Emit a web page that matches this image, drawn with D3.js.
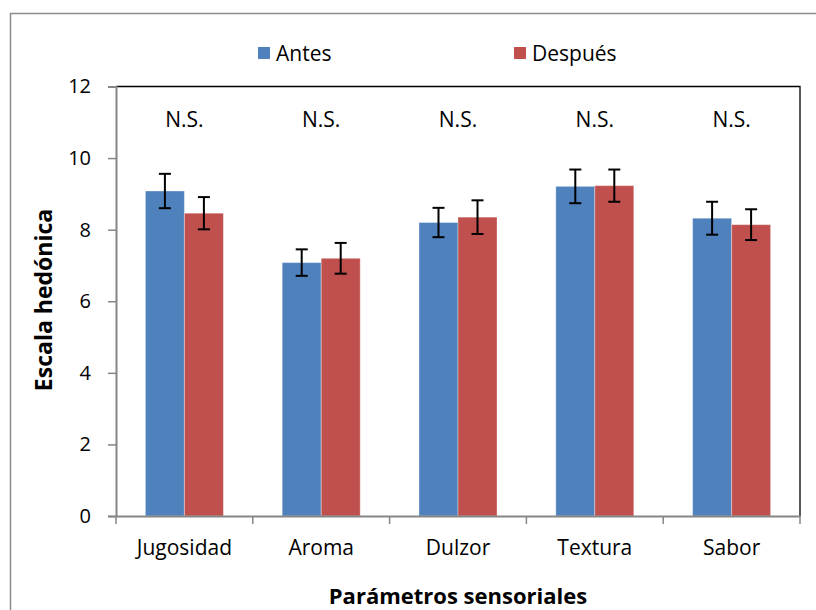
<!DOCTYPE html>
<html><head><meta charset="utf-8">
<script src="https://cdn.jsdelivr.net/npm/d3@7"></script>
<style>body{margin:0;background:#fff}svg{display:block}text{font-family:"Open Sans",sans-serif}</style>
</head><body><svg id="c" width="816" height="610"></svg>
<script>
const categories = ["Jugosidad","Aroma","Dulzor","Textura","Sabor"];
const seriesNames = ["Antes","Después"];
const antes = [9.08, 7.08, 8.20, 9.21, 8.32];
const despues = [8.46, 7.20, 8.35, 9.23, 8.14];
const antesErr = [0.48, 0.37, 0.41, 0.47, 0.46];
const despuesErr = [0.45, 0.43, 0.47, 0.45, 0.43];
const annotations = ["N.S.","N.S.","N.S.","N.S.","N.S."];
const yTicks = [0,2,4,6,8,10,12];
const colors = ["#4F81BD","#C0504D"];

const svg = d3.select("#c");
const L=116, R=800, T=86.5, B=516;
svg.append("rect").attr("x",10.5).attr("y",13.5).attr("width",840).attr("height",640)
  .attr("fill","none").attr("stroke","#8c8c8c").attr("stroke-width",1.5);

const x = d3.scaleBand().domain(categories).range([L,R]).paddingInner(0).paddingOuter(0);
const y = d3.scaleLinear().domain([0,12]).range([B,T]);

svg.append("path").attr("d",`M${L},${T}H${R}V${B}`).attr("fill","none").attr("stroke","#000").attr("stroke-width",1.3);

const data = categories.map((c,i)=>({c, vals:[
  {s:seriesNames[0], v:antes[i], e:antesErr[i], col:colors[0]},
  {s:seriesNames[1], v:despues[i], e:despuesErr[i], col:colors[1]}]}));

const bw = 39;
const g = svg.append("g");
data.forEach((d,i)=>{
  const cx = x(d.c)+x.bandwidth()/2;
  d.vals.forEach((s,j)=>{
    const bx = cx + (j===0 ? -bw : 0);
    g.append("rect").attr("x",bx).attr("y",y(s.v)).attr("width",bw).attr("height",y(0)-y(s.v))
      .attr("fill",s.col).attr("stroke","rgba(255,255,255,0.35)").attr("stroke-width",1);
    const ex = bx+bw/2;
    g.append("line").attr("x1",ex).attr("x2",ex).attr("y1",y(s.v+s.e)).attr("y2",y(s.v-s.e)).attr("stroke","#000").attr("stroke-width",2);
    [s.v+s.e, s.v-s.e].forEach(v=>g.append("line").attr("x1",ex-6).attr("x2",ex+6).attr("y1",y(v)).attr("y2",y(v)).attr("stroke","#000").attr("stroke-width",2));
  });
  svg.append("text").attr("x",cx).attr("y",127).attr("text-anchor","middle").attr("font-size",21).attr("fill","#000").text(annotations[i]);
});

const ya = svg.append("g").attr("transform",`translate(${L},0)`)
  .call(d3.axisLeft(y).tickValues(yTicks).tickSize(8).tickPadding(17).tickFormat(d3.format("d")));
ya.select(".domain").attr("stroke","#868686").attr("stroke-width",2);
ya.selectAll(".tick line").attr("stroke","#868686").attr("stroke-width",1.5);
ya.selectAll("text").attr("font-size",20).attr("fill","#000").style("font-family","'Open Sans',sans-serif");

const xa = svg.append("g").attr("transform",`translate(0,${B})`)
  .call(d3.axisBottom(x).tickSize(0).tickPadding(24));
xa.select(".domain").attr("stroke","#868686").attr("stroke-width",2);
xa.selectAll("text").attr("font-size",21).attr("fill","#000").style("font-family","'Open Sans',sans-serif");
const bounds = categories.map(c=>x(c)).concat([R]);
xa.selectAll(".bt").data(bounds).enter().append("line").attr("class","bt")
  .attr("x1",d=>d).attr("x2",d=>d).attr("y1",0).attr("y2",8).attr("stroke","#868686").attr("stroke-width",1.5);

svg.append("text").attr("transform","translate(52,300) rotate(-90)").attr("text-anchor","middle")
  .attr("font-size",23).attr("font-weight","bold").attr("fill","#000").text("Escala hedónica");
svg.append("text").attr("x",458).attr("y",604).attr("text-anchor","middle")
  .attr("font-size",22).attr("font-weight","bold").attr("fill","#000").text("Parámetros sensoriales");

const leg = [{n:seriesNames[0],x:258,c:colors[0]},{n:seriesNames[1],x:514,c:colors[1]}];
leg.forEach(l=>{
  svg.append("rect").attr("x",l.x).attr("y",47).attr("width",12).attr("height",12).attr("fill",l.c);
  svg.append("text").attr("x",l.x+18).attr("y",61).attr("font-size",21).attr("fill","#000").text(l.n);
});
</script></body></html>
